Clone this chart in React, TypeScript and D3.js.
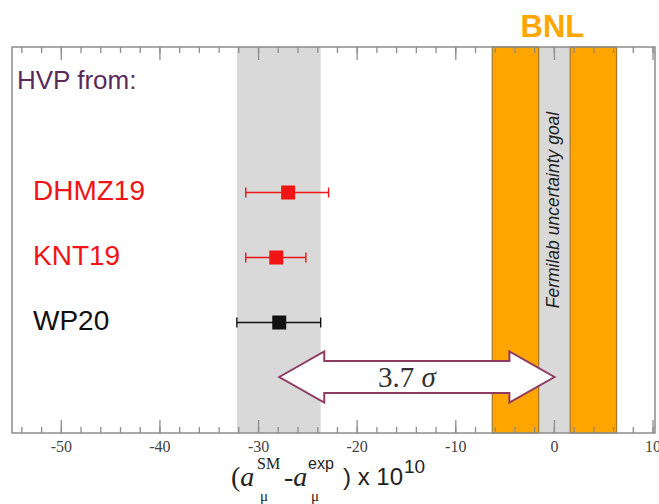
import { useEffect } from "react";
import * as d3 from "d3";

// HVP evaluations: (a_mu^SM - a_mu^exp) x 10^10
const entries = ["DHMZ19", "KNT19", "WP20"];
const centers = [-27.0, -28.2, -27.9];
const lows = [-31.3, -31.3, -32.2];
const highs = [-22.9, -25.2, -23.7];

const wpBand = [-32.2, -23.7];
const bnlBand = [-6.3, 6.3];
const fnalGoal = [-1.6, 1.6];
const arrowSpan = [-27.9, 0];

const majorTicks = [-50, -40, -30, -20, -10, 0, 10];
const tickLabels = ["-50", "-40", "-30", "-20", "-10", "0", "10"];
const minorTicks = d3.range(-54, 11, 2);

const W = 659;
const H = 504;
const SANS = "'Liberation Sans', Arial, Helvetica, sans-serif";
const SERIF = "'Liberation Serif', 'Times New Roman', serif";

export default function App() {
  useEffect(() => {
    document.body.style.margin = "0";
  }, []);

  const top = 47;
  const bottom = 433;
  const x = d3.scaleLinear().domain([-55, 10.2]).range([12, 655]);
  const y = d3.scalePoint().domain(entries).range([192.5, 322.5]);
  const rowColor = { DHMZ19: "#f01414", KNT19: "#f01414", WP20: "#111111" };

  const frame = "#8c8c8c";
  const orange = "#ffa500";
  const orangeEdge = "#a7771f";
  const band = "#d9d9d9";

  // double arrow
  const ay = 377;
  const x0 = x(arrowSpan[0]);
  const x1 = x(arrowSpan[1]);
  const hl = 45, sh = 16, hh = 25.5;
  const arrow = d3.path();
  arrow.moveTo(x0, ay);
  arrow.lineTo(x0 + hl, ay - hh);
  arrow.lineTo(x0 + hl, ay - sh);
  arrow.lineTo(x1 - hl, ay - sh);
  arrow.lineTo(x1 - hl, ay - hh);
  arrow.lineTo(x1, ay);
  arrow.lineTo(x1 - hl, ay + hh);
  arrow.lineTo(x1 - hl, ay + sh);
  arrow.lineTo(x0 + hl, ay + sh);
  arrow.lineTo(x0 + hl, ay + hh);
  arrow.closePath();

  return (
    <svg width={W} height={H} style={{ display: "block", background: "#fff" }}>
      {/* WP20 band */}
      <rect x={x(wpBand[0])} y={top} width={x(wpBand[1]) - x(wpBand[0])} height={bottom - top} fill={band} />

      {/* BNL + Fermilab goal */}
      <rect x={x(fnalGoal[0])} y={top} width={x(fnalGoal[1]) - x(fnalGoal[0])} height={bottom - top} fill={band} />
      <rect x={x(bnlBand[0])} y={top} width={x(fnalGoal[0]) - x(bnlBand[0])} height={bottom - top}
        fill={orange} stroke={orangeEdge} strokeWidth={1.2} />
      <rect x={x(fnalGoal[1])} y={top} width={x(bnlBand[1]) - x(fnalGoal[1])} height={bottom - top}
        fill={orange} stroke={orangeEdge} strokeWidth={1.2} />
      <text x={x(0) - 1} y={210} transform={`rotate(-90 ${x(0) - 1} 210)`} textAnchor="middle"
        dominantBaseline="central" fontFamily={SANS} fontStyle="italic" fontSize={17.5} fill="#222">
        Fermilab uncertainty goal
      </text>
      <text x={x(0) - 2} y={37} textAnchor="middle" fontFamily={SANS} fontWeight="bold" fontSize={31} fill={orange}>
        BNL
      </text>

      {/* arrow */}
      <path d={arrow.toString()} fill="#fff" stroke="#8e3b62" strokeWidth={2} strokeLinejoin="miter" />
      <text x={(x0 + x1) / 2 - 10} y={387} textAnchor="middle" fontFamily={SERIF} fontSize={29} fill="#333">
        3.7 <tspan fontStyle="italic">σ</tspan>
      </text>

      {/* points */}
      {entries.map((e, i) => {
        const cy = y(e)!;
        const c = rowColor[e as keyof typeof rowColor];
        return (
          <g key={e}>
            <line x1={x(lows[i])} x2={x(highs[i])} y1={cy} y2={cy} stroke={c} strokeWidth={1.4} />
            <line x1={x(lows[i])} x2={x(lows[i])} y1={cy - 5} y2={cy + 5} stroke={c} strokeWidth={1.4} />
            <line x1={x(highs[i])} x2={x(highs[i])} y1={cy - 5} y2={cy + 5} stroke={c} strokeWidth={1.4} />
            <rect x={x(centers[i]) - 7} y={cy - 7} width={14} height={14} fill={c} />
            <text x={33} y={cy + 7} fontFamily={SANS} fontSize={28} fill={c}>{e}</text>
          </g>
        );
      })}

      <text x={17} y={89} fontFamily={SANS} fontSize={26} fill="#5a2a58">HVP from:</text>

      {/* ticks */}
      {minorTicks.map((t) => (
        <g key={"m" + t} stroke={frame} strokeWidth={1.3}>
          <line x1={x(t)} x2={x(t)} y1={top} y2={top + 6} />
          <line x1={x(t)} x2={x(t)} y1={bottom} y2={bottom - 6} />
        </g>
      ))}
      {majorTicks.map((t, i) => (
        <g key={"M" + t}>
          <line x1={x(t)} x2={x(t)} y1={top} y2={top + 13} stroke={frame} strokeWidth={1.3} />
          <line x1={x(t)} x2={x(t)} y1={bottom} y2={bottom - 13} stroke={frame} strokeWidth={1.3} />
          <text x={x(t)} y={452} textAnchor="middle" fontFamily={SERIF} fontSize={16} fill="#444">
            {tickLabels[i]}
          </text>
        </g>
      ))}

      {/* frame */}
      <rect x={x(-55)} y={top} width={x(10.2) - x(-55)} height={bottom - top} fill="none" stroke={frame} strokeWidth={1.5} />

      {/* axis title */}
      <g fill="#222">
        <text x={231} y={486} fontFamily={SERIF} fontSize={28}>
          (<tspan fontStyle="italic">a</tspan>
        </text>
        <text x={257} y={469} fontFamily={SERIF} fontSize={16}>SM</text>
        <text x={260} y={501} fontFamily={SERIF} fontSize={15}>μ</text>
        <text x={284} y={486} fontFamily={SERIF} fontSize={28}>
          -<tspan fontStyle="italic">a</tspan>
        </text>
        <text x={308} y={469} fontFamily={SANS} fontSize={16}>exp</text>
        <text x={311} y={501} fontFamily={SERIF} fontSize={15}>μ</text>
        <text x={343} y={485} fontFamily={SANS} fontSize={24}>) x 10</text>
        <text x={404} y={473} fontFamily={SANS} fontSize={19}>10</text>
      </g>
    </svg>
  );
}
